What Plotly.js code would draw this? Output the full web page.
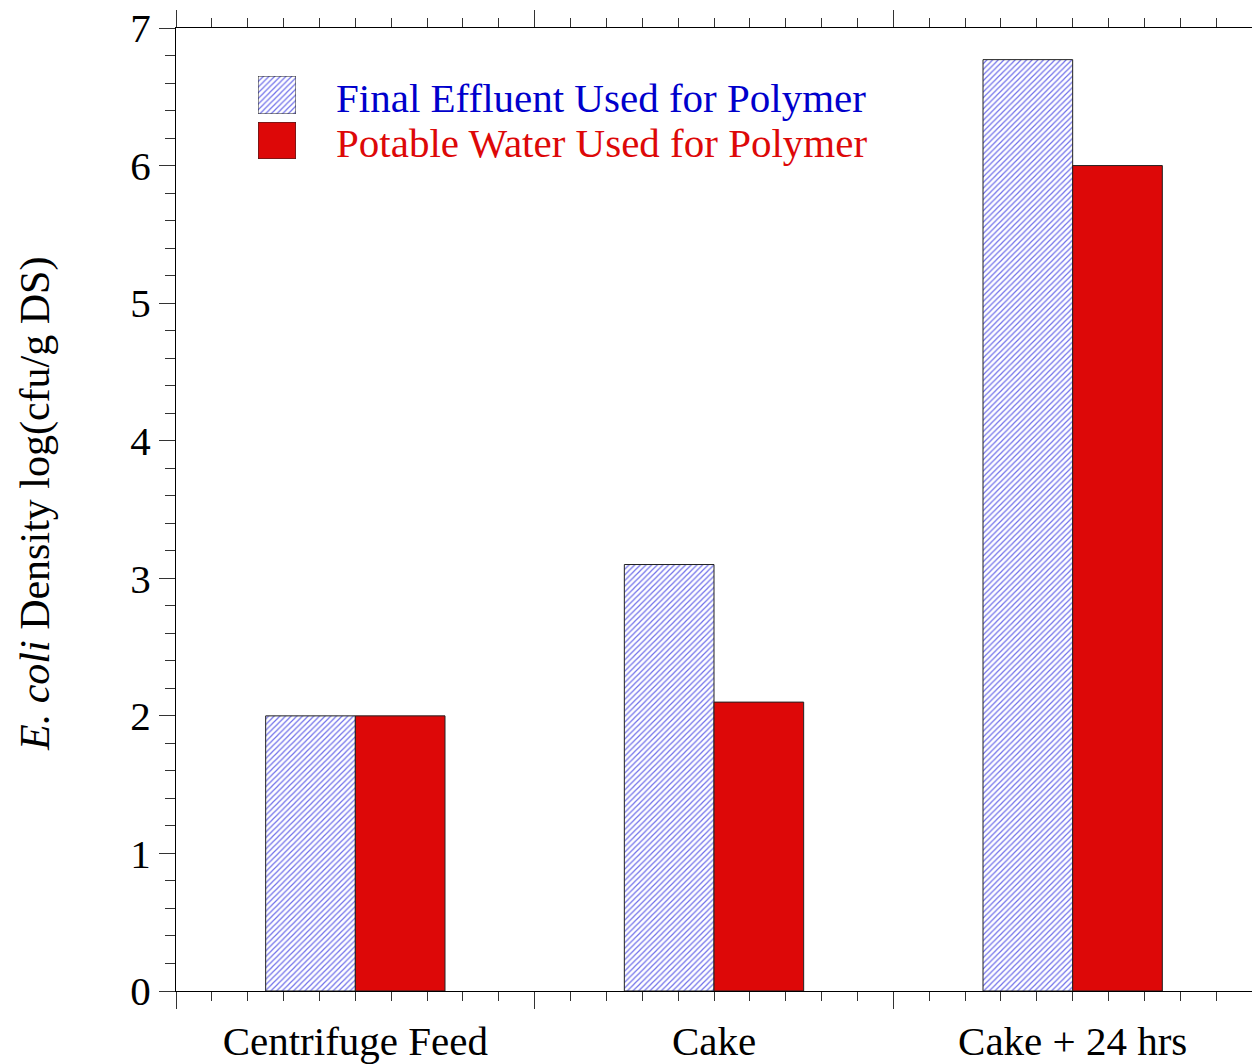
<!DOCTYPE html>
<html>
<head>
<meta charset="utf-8">
<script src="https://cdn.plot.ly/plotly-3.0.1.min.js"></script>
<style>html,body{margin:0;padding:0;background:#fff}#chart{width:1252px;height:1064px}</style>
</head>
<body>
<div id="chart"></div>
<script>
var categories = ["Centrifuge Feed", "Cake", "Cake + 24 hrs"];
var finalEffluent = [2.0, 3.1, 6.77];
var potableWater = [2.0, 2.1, 6.0];
var seriesNames = ["Final Effluent Used for Polymer", "Potable Water Used for Polymer"];
var yTickVals = [0, 1, 2, 3, 4, 5, 6, 7];

var FONT = "Liberation Serif, Times New Roman, serif";
var RED = "#dd0808";
var HATCH = "#7070ea";
var BLUE_TXT = "#0000cc";
var FS = 41;

var L = 176, R = 0, T = 28, B = 73, W = 1252, H = 1064;
var pw = W - L - R, ph = H - T - B;
function px2x(p) { return (p - L) / pw; }
function px2y(p) { return (H - B - p) / ph; }

var hatchMarker = {
  color: "#ffffff",
  line: {color: "#222", width: 1},
  pattern: {shape: "/", fgcolor: HATCH, bgcolor: "#ffffff", size: 4, solidity: 0.3}
};
var redMarker = {color: RED, line: {color: "#222", width: 1}};

var traces = [
  {type: "bar", x: categories, y: finalEffluent, name: seriesNames[0], marker: hatchMarker, xaxis: "x", yaxis: "y", hoverinfo: "x+y"},
  {type: "bar", x: categories, y: potableWater, name: seriesNames[1], marker: redMarker, xaxis: "x", yaxis: "y", hoverinfo: "x+y"},
  // invisible trace so the tick-only overlay axis is drawn
  {type: "scatter", mode: "markers", x: [0], y: [0], xaxis: "x2", yaxis: "y", marker: {opacity: 0, size: 1}, hoverinfo: "skip"},
  // legend swatches drawn on small auxiliary axes
  {type: "bar", x: [0], y: [1], width: [1], marker: hatchMarker, xaxis: "x3", yaxis: "y3", hoverinfo: "skip"},
  {type: "bar", x: [0], y: [1], width: [1], marker: redMarker, xaxis: "x4", yaxis: "y4", hoverinfo: "skip"}
];

var sw1 = {x0: px2x(258), x1: px2x(296), y0: px2y(114), y1: px2y(76)};
var sw2 = {x0: px2x(258), x1: px2x(296), y0: px2y(159), y1: px2y(122)};

var layout = {
  width: W, height: H,
  margin: {l: L, r: R, t: T, b: B, pad: 0},
  paper_bgcolor: "#fff", plot_bgcolor: "#fff",
  showlegend: false,
  barmode: "group", bargap: 0.5, bargroupgap: 0,
  font: {family: FONT, size: FS, color: "#000"},
  xaxis: {
    type: "category", domain: [0, 1], range: [-0.5, 2.5],
    showline: false, showgrid: false, zeroline: false,
    ticks: "outside", ticklen: 14, tickcolor: "rgba(0,0,0,0)",
    tickfont: {family: FONT, size: FS, color: "#000"}, fixedrange: true
  },
  xaxis2: {
    overlaying: "x", anchor: "y", side: "bottom", range: [-0.5, 2.5],
    showline: true, linecolor: "#000", linewidth: 1, mirror: "ticks",
    showgrid: false, zeroline: false, showticklabels: false,
    tick0: -0.5, dtick: 1, ticks: "outside", ticklen: 17, tickwidth: 1, tickcolor: "#333",
    minor: {dtick: 0.1, ticks: "outside", ticklen: 9, tickwidth: 1, tickcolor: "#333", showgrid: false},
    fixedrange: true
  },
  yaxis: {
    range: [0, 7], domain: [0, 1], anchor: "x",
    showline: true, linecolor: "#000", linewidth: 1,
    showgrid: false, zeroline: false,
    tickvals: yTickVals, ticks: "outside", ticklen: 16, tickwidth: 1, tickcolor: "#333",
    minor: {dtick: 0.2, ticks: "outside", ticklen: 10, tickwidth: 1, tickcolor: "#333", showgrid: false},
    tickfont: {family: FONT, size: FS, color: "#000"}, fixedrange: true
  },
  xaxis3: {domain: [sw1.x0, sw1.x1], anchor: "y3", range: [-0.5, 0.5], visible: false, fixedrange: true},
  yaxis3: {domain: [sw1.y0, sw1.y1], anchor: "x3", range: [0, 1], visible: false, fixedrange: true},
  xaxis4: {domain: [sw2.x0, sw2.x1], anchor: "y4", range: [-0.5, 0.5], visible: false, fixedrange: true},
  yaxis4: {domain: [sw2.y0, sw2.y1], anchor: "x4", range: [0, 1], visible: false, fixedrange: true},
  annotations: [
    {xref: "paper", yref: "paper", x: px2x(334), y: px2y(98), xanchor: "left", yanchor: "middle",
     text: seriesNames[0], showarrow: false, font: {family: FONT, size: FS, color: BLUE_TXT}},
    {xref: "paper", yref: "paper", x: px2x(334), y: px2y(143), xanchor: "left", yanchor: "middle",
     text: seriesNames[1], showarrow: false, font: {family: FONT, size: FS, color: RED}},
    {xref: "paper", yref: "paper", x: px2x(35), y: px2y(504), xanchor: "center", yanchor: "middle",
     textangle: -90, text: "<i>E. coli</i> Density log(cfu/g DS)", showarrow: false,
     font: {family: FONT, size: 42, color: "#000"}}
  ]
};

Plotly.newPlot("chart", traces, layout, {displayModeBar: false, staticPlot: true});
</script>
</body>
</html>
